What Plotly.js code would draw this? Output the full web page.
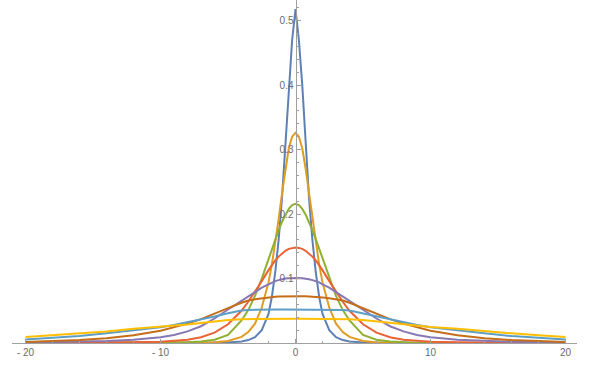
<!DOCTYPE html>
<html>
<head>
<meta charset="utf-8">
<script src="https://cdn.plot.ly/plotly-3.0.1.min.js"></script>
<style>
  html, body { margin: 0; padding: 0; background: #fff; }
  #chart { width: 594px; height: 365px; }
</style>
</head>
<body>
<div id="chart"></div>
<script>
const xs = [-20,-18,-16,-14,-12,-10,-9,-8,-7,-6,-5,-4,-3.5,-3,-2.5,-2,-1.75,-1.5,-1.25,-1,-0.75,-0.5,-0.25,0,
  0.25,0.5,0.75,1,1.25,1.5,1.75,2,2.5,3,3.5,4,5,6,7,8,9,10,12,14,16,18,20];

const blue = [0,0,0,0,0,0,0,0,0,0.0002,0.0007,0.0025,0.0045,0.009,0.02,0.045,0.072,0.11,0.16,0.225,0.31,0.4,0.47,0.518,
  0.47,0.4,0.31,0.225,0.16,0.11,0.072,0.045,0.02,0.009,0.0045,0.0025,0.0007,0.0002,0,0,0,0,0,0,0,0,0];
const orange = [0,0,0,0,0,0,0,0.0001,0.0003,0.001,0.003,0.0095,0.017,0.03,0.055,0.094,0.122,0.155,0.192,0.232,0.27,0.302,0.32,0.326,
  0.32,0.302,0.27,0.232,0.192,0.155,0.122,0.094,0.055,0.03,0.017,0.0095,0.003,0.001,0.0003,0.0001,0,0,0,0,0,0,0];
const green = [0,0,0,0,0.0001,0.0002,0.0005,0.001,0.0022,0.005,0.0125,0.035,0.051,0.073,0.1,0.131,0.146,0.161,0.175,0.188,0.199,0.208,0.214,0.216,
  0.214,0.208,0.199,0.188,0.175,0.161,0.146,0.131,0.1,0.073,0.051,0.035,0.0125,0.005,0.0022,0.001,0.0005,0.0002,0.0001,0,0,0,0];
const red = [0.0001,0.0002,0.0003,0.0005,0.001,0.002,0.003,0.005,0.009,0.016,0.029,0.05,0.064,0.079,0.096,0.113,0.121,0.128,0.134,0.139,0.143,0.146,0.1475,0.148,
  0.1475,0.146,0.143,0.139,0.134,0.128,0.121,0.113,0.096,0.079,0.064,0.05,0.029,0.016,0.009,0.005,0.003,0.002,0.001,0.0005,0.0003,0.0002,0.0001];
const purple = [0.0009,0.0013,0.002,0.003,0.005,0.009,0.0125,0.018,0.026,0.038,0.052,0.065,0.072,0.079,0.086,0.091,0.094,0.096,0.0975,0.099,0.1,0.1005,0.101,0.101,
  0.101,0.1005,0.1,0.099,0.0975,0.096,0.094,0.091,0.086,0.079,0.072,0.065,0.052,0.038,0.026,0.018,0.0125,0.009,0.005,0.003,0.002,0.0013,0.0009];
const brown = [0.0017,0.0028,0.0045,0.0075,0.012,0.019,0.024,0.03,0.037,0.045,0.054,0.0625,0.066,0.068,0.0695,0.0707,0.0712,0.0716,0.072,0.0722,0.0724,0.0725,0.0726,0.0726,
  0.0726,0.0725,0.0724,0.0722,0.072,0.0716,0.0712,0.0707,0.0695,0.068,0.066,0.0625,0.054,0.045,0.037,0.03,0.024,0.019,0.012,0.0075,0.0045,0.0028,0.0017];
const lightBlue = [0.0056,0.008,0.0108,0.015,0.0195,0.0245,0.028,0.032,0.036,0.041,0.046,0.0505,0.0513,0.0517,0.0519,0.052,0.052,0.052,0.052,0.052,0.052,0.052,0.052,0.052,
  0.052,0.052,0.052,0.052,0.052,0.052,0.052,0.052,0.0519,0.0517,0.0513,0.0505,0.046,0.041,0.036,0.032,0.028,0.0245,0.0195,0.015,0.0108,0.008,0.0056];
const yellow = [0.0095,0.012,0.015,0.018,0.022,0.025,0.027,0.0288,0.031,0.0335,0.0355,0.037,0.0372,0.0374,0.0375,0.0375,0.0375,0.0375,0.0375,0.0375,0.0375,0.0375,0.0375,0.0375,
  0.0375,0.0375,0.0375,0.0375,0.0375,0.0375,0.0375,0.0375,0.0375,0.0374,0.0372,0.037,0.0355,0.0335,0.031,0.0288,0.027,0.025,0.022,0.018,0.015,0.012,0.0095];

const series = [blue, orange, green, red, purple, brown, lightBlue, yellow];
const colors = ["#5e81b5", "#e19c24", "#8fb032", "#eb6235", "#8778b3", "#c56e1a", "#5d9ec7", "#ffbf00"];

const xTickVals = [-20, -10, 0, 10, 20];
const xTickText = ["- 20", "- 10", "0", "10", "20"];
const yTickVals = [0.1, 0.2, 0.3, 0.4, 0.5];
const yTickText = ["0.1", "0.2", "0.3", "0.4", "0.5"];

(() => {
  const xRange = [-21.0, 20.85];
  const yRange = [0, 0.532];
  const axisColor = "#a0a0a0";
  const tickFont = { family: "Liberation Sans, Arial, sans-serif", size: 10, color: "#6b6b6b" };

  const traces = series.map((y, i) => ({
    x: xs,
    y,
    type: "scatter",
    mode: "lines",
    line: { color: colors[i], width: 2 },
    hoverinfo: "skip",
  }));

  Plotly.newPlot("chart", traces, {
    width: 594,
    height: 365,
    margin: { l: 12, r: 17, t: 0, b: 22 },
    paper_bgcolor: "#fff",
    plot_bgcolor: "#fff",
    showlegend: false,
    xaxis: {
      range: xRange,
      showgrid: false,
      zeroline: false,
      showline: true,
      linecolor: axisColor,
      linewidth: 1,
      ticks: "inside",
      ticklen: 4,
      tickcolor: axisColor,
      tickmode: "array",
      tickvals: xTickVals,
      ticktext: xTickText,
      tickfont: tickFont,
      minor: { ticks: "inside", ticklen: 2, dtick: 2, tick0: 0, tickcolor: axisColor, showgrid: false },
    },
    yaxis: {
      range: yRange,
      anchor: "free",
      position: (0 - xRange[0]) / (xRange[1] - xRange[0]),
      showgrid: false,
      zeroline: false,
      showline: true,
      linecolor: axisColor,
      linewidth: 1,
      ticks: "inside",
      ticklen: 4,
      tickcolor: axisColor,
      tickmode: "array",
      tickvals: yTickVals,
      ticktext: yTickText,
      tickfont: tickFont,
      minor: { ticks: "inside", ticklen: 2, dtick: 0.02, tick0: 0, tickcolor: axisColor, showgrid: false },
    },
  }, { staticPlot: true });
})();
</script>
</body>
</html>
